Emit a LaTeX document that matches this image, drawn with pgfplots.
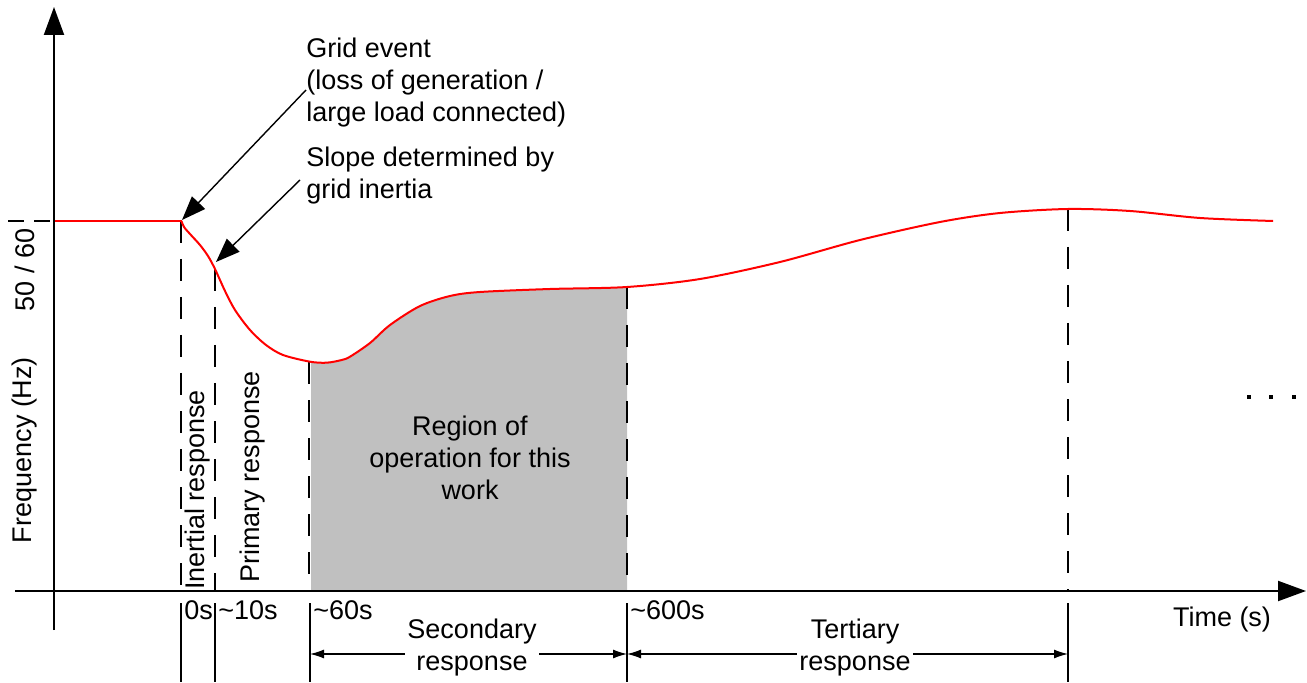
\documentclass[border=0pt]{standalone}
\usepackage{pgfplots}
\pgfplotsset{compat=1.18}
\usetikzlibrary{arrows.meta}
\usepackage{fontspec}
\setmainfont{Liberation Sans}
\definecolor{regiongray}{RGB}{192,192,192}
\begin{document}
\begin{tikzpicture}[font=\fontsize{13.5}{16}\selectfont]
\begin{axis}[
  width=653.5pt, height=341pt, scale only axis,
  xmin=0, xmax=1307, ymin=0, ymax=682, y dir=reverse,
  axis lines=none, clip=false,
]
\path (axis cs:0,0) rectangle (axis cs:1307,682);
% shaded region
\addplot[fill=regiongray, draw=none] coordinates {
 (311,591) (311,362) (326.7,362.7) (341.7,360) (350,356.7) (370,343) (390,325) (420,306) (450,296) (480,292) (550,289) (627,287) (627,591)} -- cycle;
% axes
\draw[line width=1pt, -{Triangle[length=14pt,width=10pt]}] (axis cs:54,630) -- (axis cs:54,7);
\draw[line width=1pt, -{Triangle[length=14pt,width=10pt]}] (axis cs:15,591) -- (axis cs:1306,591);
% reference dashed
\draw[line width=1pt, dash pattern=on 8pt off 5pt] (axis cs:8,221) -- (axis cs:54,221);
% vertical dashed lines
\draw[line width=1pt, dash pattern=on 11pt off 8pt] (axis cs:181,221) -- (axis cs:181,591);
\draw[line width=1pt, dash pattern=on 11pt off 8pt] (axis cs:215,269) -- (axis cs:215,591);
\draw[line width=1pt, dash pattern=on 11pt off 8pt] (axis cs:309,362) -- (axis cs:309,591);
\draw[line width=1pt, dash pattern=on 11pt off 8pt] (axis cs:627,287) -- (axis cs:627,591);
\draw[line width=1pt, dash pattern=on 11pt off 8pt] (axis cs:1068,209) -- (axis cs:1068,591);
% below-axis solid ticks
\draw[line width=0.6pt] (axis cs:181,603) -- (axis cs:181,682);
\draw[line width=0.6pt] (axis cs:215,603) -- (axis cs:215,682);
\draw[line width=0.6pt] (axis cs:310,603) -- (axis cs:310,682);
\draw[line width=0.6pt] (axis cs:627,603) -- (axis cs:627,682);
\draw[line width=0.6pt] (axis cs:1068,603) -- (axis cs:1068,682);
% frequency curve
\addplot[red, line width=1pt] coordinates {(55,221) (181.5,221)};
\addplot[red, line width=1pt, smooth] coordinates {
 (181.5,221) (184,227) (190,234) (200,245) (208,256) (215,269) (225,291) (235,310) (250,330) (266,345) (283,355) (310,361.7) (326.7,362.7) (341.7,360) (350,356.7) (370,343) (390,325) (420,306) (450,296) (480,292) (550,289) (627,287) (700,279) (780,262) (860,240) (940,222) (1000,213) (1068,209) (1130,211) (1200,218) (1273,221)};
% annotation arrows
\draw[line width=0.7pt, -{Triangle[length=12pt,width=9pt]}] (axis cs:306,90) -- (axis cs:182,220);
\draw[line width=0.7pt, -{Triangle[length=12pt,width=9pt]}] (axis cs:300,180) -- (axis cs:216,262);
% texts
\node[anchor=west, align=left, inner sep=0pt] at (axis cs:306,83) {Grid event\\(loss of generation /\\large load connected)};
\node[anchor=west, align=left, inner sep=0pt] at (axis cs:306,176) {Slope determined by\\grid inertia};
\node[rotate=90] at (axis cs:25,450) {Frequency (Hz)};
\node[rotate=90] at (axis cs:25,270) {50 / 60};
\node[rotate=90] at (axis cs:198,490) {Inertial response};
\node[rotate=90] at (axis cs:253,477) {Primary response};
\node[align=center] at (axis cs:470,458) {Region of\\operation for this\\work};
\node[anchor=west, inner sep=1pt] at (axis cs:182,610) {0s};
\node[anchor=west, inner sep=1pt] at (axis cs:216,610) {\textasciitilde10s};
\node[anchor=west, inner sep=1pt] at (axis cs:311,610) {\textasciitilde60s};
\node[anchor=west, inner sep=1pt] at (axis cs:628,610) {\textasciitilde600s};
\node at (axis cs:1222,620) {Time (s)};
\addplot[only marks, mark=square*, mark size=0.9pt, black] coordinates {(1249,397) (1271,397) (1294,397)};
% bottom dimension arrows
\draw[line width=0.6pt, {Latex[length=7pt,width=4.5pt]}-{Latex[length=7pt,width=4.5pt]}] (axis cs:310,654) -- (axis cs:627,654);
\draw[line width=0.6pt, {Latex[length=7pt,width=4.5pt]}-{Latex[length=7pt,width=4.5pt]}] (axis cs:627,654) -- (axis cs:1068,654);
\node[align=center, fill=white, inner sep=1pt] at (axis cs:472,648) {Secondary\\response};
\node[align=center, fill=white, inner sep=1pt] at (axis cs:855,648) {Tertiary\\response};
\end{axis}
\end{tikzpicture}
\end{document}
